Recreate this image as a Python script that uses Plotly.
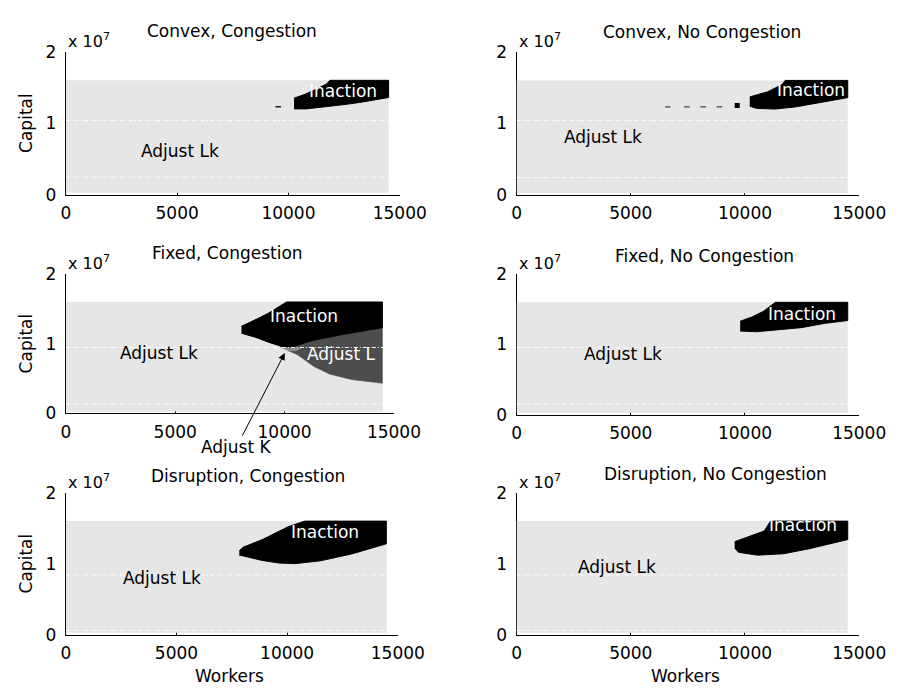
import plotly.graph_objects as go

W, H = 919, 698
FONT = "DejaVu Sans"
SCALE = 1e7  # capital values below are in units of 10^7

LIGHT = "#e6e6e6"
DARK = "#4d4d4d"
MID = "#8e8e8e"

# ---------------- data ----------------
panel_titles = ["Convex, Congestion", "Convex, No Congestion",
                "Fixed, Congestion", "Fixed, No Congestion",
                "Disruption, Congestion", "Disruption, No Congestion"]

x_ticks = [0, 5000, 10000, 15000]
y_ticks = [0, 1, 2]
y_tick_text = ["0", "1", "2"]

grid_workers = [0, 14500]
grid_capital = [0.025, 1.6]

# white dashed reference lines (capital, 10^7)
dash_cc = [1.037, 0.244]
dash_cn = [1.040, 0.245]
dash_fc = [0.945, 0.130]
dash_fn = [0.955, 0.150]
dash_dc = [0.840, 0.060]
dash_dn = [0.840, 0.060]

# Inaction regions: upper and lower boundaries
cc_up_x = [10250, 10710, 11210, 11720, 11860, 14500]
cc_up_y = [1.35, 1.40, 1.47, 1.55, 1.60, 1.60]
cc_lo_x = [10250, 10800, 11700, 12500, 13200, 14000, 14500]
cc_lo_y = [1.20, 1.20, 1.23, 1.26, 1.29, 1.33, 1.36]

cn_up_x = [10210, 10980, 11620, 11760, 14500]
cn_up_y = [1.37, 1.44, 1.54, 1.60, 1.60]
cn_lo_x = [10210, 10500, 11300, 12200, 13000, 13800, 14500]
cn_lo_y = [1.24, 1.21, 1.20, 1.23, 1.27, 1.32, 1.36]

fc_up_x = [8030, 8380, 8830, 9270, 9700, 10090, 14470]
fc_up_y = [1.25, 1.30, 1.37, 1.44, 1.53, 1.60, 1.60]
fc_lo_x = [8030, 8690, 9270, 9870, 10300, 11340, 12800, 14470]
fc_lo_y = [1.15, 1.09, 1.02, 0.96, 0.95, 1.05, 1.14, 1.23]

# Adjust L region (Fixed, Congestion)
fc_al_up_x = [10150, 10300, 11340, 12800, 14470]
fc_al_up_y = [0.93, 0.95, 1.05, 1.14, 1.23]
fc_al_lo_x = [10150, 10590, 11340, 12070, 13100, 14470]
fc_al_lo_y = [0.90, 0.84, 0.67, 0.56, 0.48, 0.43]

# Adjust K sliver (Fixed, Congestion)
fc_ak_x = [9750, 10200, 10750, 10500, 10150, 9850]
fc_ak_y = [0.965, 0.955, 0.93, 0.895, 0.90, 0.94]

fn_up_x = [9790, 10300, 10800, 11340, 14500]
fn_up_y = [1.33, 1.39, 1.47, 1.60, 1.60]
fn_lo_x = [9790, 10500, 11500, 12500, 13500, 14500]
fn_lo_y = [1.19, 1.18, 1.21, 1.24, 1.30, 1.34]

dc_up_x = [7840, 8000, 8880, 9460, 10040, 10800, 14480]
dc_up_y = [1.18, 1.23, 1.34, 1.43, 1.52, 1.60, 1.60]
dc_lo_x = [7840, 8000, 8880, 9610, 10340, 11500, 12950, 14480]
dc_lo_y = [1.12, 1.11, 1.045, 1.01, 1.00, 1.04, 1.14, 1.28]

dn_up_x = [9550, 10280, 10840, 11120, 14500]
dn_up_y = [1.31, 1.39, 1.46, 1.60, 1.60]
dn_lo_x = [9550, 9720, 10560, 11690, 12810, 14500]
dn_lo_y = [1.22, 1.16, 1.12, 1.14, 1.21, 1.34]

# isolated specks
cc_speck_x = [9540]
cc_speck_y = [1.23]
cn_speck_x = [6620, 7460, 8170, 8880]
cn_speck_y = [1.23, 1.23, 1.23, 1.23]
cn_blob_x = [9660]
cn_blob_y = [1.25]

# ---------------- layout geometry (pixels) ----------------
panels = [  # x0, x1, ytop, ybottom
    (63, 409, 43, 190),
    (530, 885, 43, 190.5),
    (63, 403, 272, 415),
    (530, 885, 272, 416.5),
    (63, 407, 497, 643),
    (530, 885, 497, 643),
]


def px(x):
    return x / W


def py(y):
    return 1 - y / H


fig = go.Figure()


def ax_names(i):
    s = "" if i == 1 else str(i)
    return "x" + s, "y" + s


def poly(ux, uy, lx, ly):
    xs = list(ux) + list(lx)[::-1]
    ys = [v * SCALE for v in list(uy) + list(ly)[::-1]]
    return xs, ys


inaction = [
    (cc_up_x, cc_up_y, cc_lo_x, cc_lo_y),
    (cn_up_x, cn_up_y, cn_lo_x, cn_lo_y),
    (fc_up_x, fc_up_y, fc_lo_x, fc_lo_y),
    (fn_up_x, fn_up_y, fn_lo_x, fn_lo_y),
    (dc_up_x, dc_up_y, dc_lo_x, dc_lo_y),
    (dn_up_x, dn_up_y, dn_lo_x, dn_lo_y),
]
dashes = [dash_cc, dash_cn, dash_fc, dash_fn, dash_dc, dash_dn]

for i in range(1, 7):
    xa, ya = ax_names(i)
    gx = [grid_workers[0], grid_workers[1], grid_workers[1], grid_workers[0]]
    gy = [grid_capital[0] * SCALE, grid_capital[0] * SCALE,
          grid_capital[1] * SCALE, grid_capital[1] * SCALE]
    fig.add_trace(go.Scatter(x=gx, y=gy, fill="toself", fillcolor=LIGHT,
                             line=dict(width=0), mode="lines",
                             hoverinfo="skip", showlegend=False,
                             xaxis=xa, yaxis=ya))
    if i == 3:
        xs, ys = poly(fc_al_up_x, fc_al_up_y, fc_al_lo_x, fc_al_lo_y)
        fig.add_trace(go.Scatter(x=xs, y=ys, fill="toself", fillcolor=DARK,
                                 line=dict(width=0.5, color=DARK), mode="lines",
                                 hoverinfo="skip", showlegend=False,
                                 xaxis=xa, yaxis=ya))
        fig.add_trace(go.Scatter(x=fc_ak_x, y=[v * SCALE for v in fc_ak_y],
                                 fill="toself", fillcolor=MID,
                                 line=dict(width=0.5, color=MID), mode="lines",
                                 hoverinfo="skip", showlegend=False,
                                 xaxis=xa, yaxis=ya))
    ux, uy, lx, ly = inaction[i - 1]
    xs, ys = poly(ux, uy, lx, ly)
    fig.add_trace(go.Scatter(x=xs, y=ys, fill="toself", fillcolor="black",
                             line=dict(width=1, color="black"), mode="lines",
                             hoverinfo="skip", showlegend=False,
                             xaxis=xa, yaxis=ya))
    for dv in dashes[i - 1]:
        fig.add_trace(go.Scatter(x=grid_workers, y=[dv * SCALE, dv * SCALE],
                                 mode="lines",
                                 line=dict(color="white", width=1, dash="4px,2px,1px,2px"),
                                 hoverinfo="skip", showlegend=False,
                                 xaxis=xa, yaxis=ya))
    if i == 1:
        fig.add_trace(go.Scatter(x=cc_speck_x, y=[v * SCALE for v in cc_speck_y],
                                 mode="markers",
                                 marker=dict(symbol="line-ew", size=4,
                                             line=dict(width=1.5, color="#222")),
                                 hoverinfo="skip", showlegend=False,
                                 xaxis=xa, yaxis=ya))
    if i == 2:
        fig.add_trace(go.Scatter(x=cn_speck_x, y=[v * SCALE for v in cn_speck_y],
                                 mode="markers",
                                 marker=dict(symbol="line-ew", size=4,
                                             line=dict(width=1.2, color="#444")),
                                 hoverinfo="skip", showlegend=False,
                                 xaxis=xa, yaxis=ya))
        fig.add_trace(go.Scatter(x=cn_blob_x, y=[v * SCALE for v in cn_blob_y],
                                 mode="markers",
                                 marker=dict(symbol="square", size=5, color="black"),
                                 hoverinfo="skip", showlegend=False,
                                 xaxis=xa, yaxis=ya))

    x0, x1, yt, yb = panels[i - 1]
    axkey = "xaxis" if i == 1 else f"xaxis{i}"
    aykey = "yaxis" if i == 1 else f"yaxis{i}"
    common = dict(showline=True, linecolor="black", linewidth=1,
                  ticks="inside", ticklen=4, tickcolor="black", tickwidth=1,
                  showgrid=False, zeroline=False, layer="below traces",
                  tickfont=dict(family=FONT, size=17, color="black"),
                  fixedrange=True)
    fig.update_layout(**{
        axkey: dict(domain=[px(x0), px(x1)], range=[0, 15000],
                    tickvals=x_ticks, ticktext=[str(v) for v in x_ticks],
                    anchor=ya, ticklabelstandoff=3, **common),
        aykey: dict(domain=[py(yb), py(yt)], range=[0, 2 * SCALE],
                    tickvals=[v * SCALE for v in y_ticks], ticktext=y_tick_text,
                    anchor=xa, ticklabelstandoff=5, **common),
    })

annotations = []
title_pos = [(235, 22), (722, 23), (231, 250), (725, 253), (252, 480), (736, 478)]
for t, (x, y) in zip(panel_titles, title_pos):
    annotations.append(dict(text=t, x=px(x), y=py(y), xref="paper", yref="paper",
                            showarrow=False, xanchor="center", yanchor="middle",
                            font=dict(family=FONT, size=17, color="black")))
for (x0, x1, yt, yb) in panels:
    annotations.append(dict(text="x 10<sup>7</sup>", x=px(x0 + 24), y=py(yt - 12),
                            xref="paper", yref="paper", showarrow=False,
                            xanchor="center", yanchor="middle",
                            font=dict(family=FONT, size=16, color="black")))
for (x0, x1, yt, yb) in [panels[0], panels[2], panels[4]]:
    annotations.append(dict(text="Capital", x=px(21.5), y=py((yt + yb) / 2),
                            xref="paper", yref="paper", showarrow=False,
                            textangle=-90, xanchor="center", yanchor="middle",
                            font=dict(family=FONT, size=17, color="black")))
for xc in [233, 705]:
    annotations.append(dict(text="Workers", x=px(xc), y=py(686),
                            xref="paper", yref="paper", showarrow=False,
                            xanchor="center", yanchor="middle",
                            font=dict(family=FONT, size=17, color="black")))

region_labels = [
    (1, "Adjust Lk", 5145, 0.61, "black"), (1, "Inaction", 12440, 1.45, "white"),
    (2, "Adjust Lk", 3800, 0.81, "black"), (2, "Inaction", 12890, 1.47, "white"),
    (3, "Adjust Lk", 4250, 0.87, "black"), (3, "Inaction", 10900, 1.405, "white"),
    (3, "Adjust L", 12590, 0.85, "white"),
    (4, "Adjust Lk", 4650, 0.86, "black"), (4, "Inaction", 12500, 1.43, "white"),
    (5, "Adjust Lk", 4350, 0.795, "black"), (5, "Inaction", 11690, 1.44, "white"),
    (6, "Adjust Lk", 4390, 0.955, "black"), (6, "Inaction", 12530, 1.54, "white"),
]
for (i, t, x, y, c) in region_labels:
    xa, ya = ax_names(i)
    annotations.append(dict(text=t, x=x, y=y * SCALE, xref=xa, yref=ya,
                            showarrow=False, xanchor="center", yanchor="middle",
                            font=dict(family=FONT, size=17, color=c)))

annotations.append(dict(text="Adjust K", x=10010, y=0.865 * SCALE,
                        ax=7800, ay=-0.49 * SCALE, xref="x3", yref="y3",
                        axref="x3", ayref="y3", showarrow=True,
                        arrowhead=2, arrowsize=1.4, arrowwidth=1,
                        arrowcolor="black", standoff=0,
                        font=dict(family=FONT, size=17, color="black")))

fig.update_layout(width=W, height=H, margin=dict(l=0, r=0, t=0, b=0),
                  paper_bgcolor="white", plot_bgcolor="white",
                  showlegend=False, annotations=annotations)

fig.write_html("out.html")
